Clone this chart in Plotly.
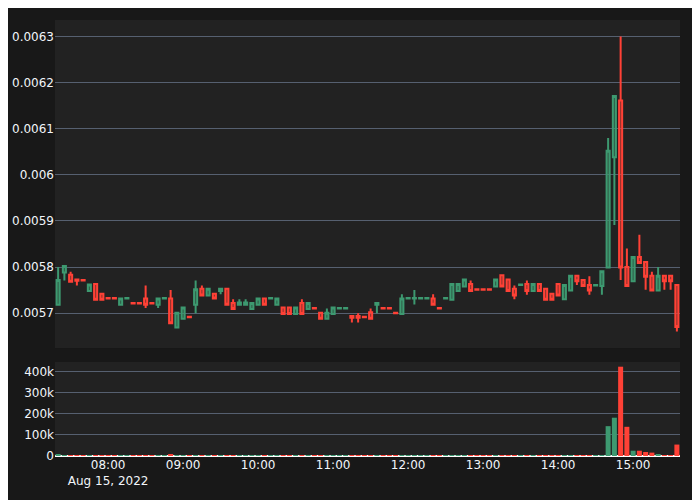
import pandas as pd
import plotly.graph_objects as go
from plotly.subplots import make_subplots

# 5-minute bars, Aug 15 2022, 07:20 .. 15:35
times = pd.date_range("2022-08-15 07:20", "2022-08-15 15:35", freq="5min")

opens = [
    0.005718, 0.005788, 0.005783, 0.005773, 0.005772, 0.005748, 0.005763, 0.005742, 0.005733, 0.005733,
    0.005718, 0.005732, 0.005722, 0.005722, 0.005732, 0.005722, 0.005718, 0.005732, 0.005732, 0.005669,
    0.005688, 0.005692, 0.005718, 0.005753, 0.005738, 0.005742, 0.005748, 0.005753, 0.005722, 0.005718,
    0.005718, 0.005709, 0.005718, 0.005732, 0.005732, 0.005718, 0.005712, 0.005712, 0.005698, 0.005722,
    0.005709, 0.005711, 0.005701, 0.005688, 0.005698, 0.005710, 0.005710, 0.005694, 0.005694, 0.005692,
    0.005702, 0.005718, 0.005711, 0.005711, 0.005701, 0.005698, 0.005732, 0.005732, 0.005732, 0.005732,
    0.005732, 0.005711, 0.005732, 0.005729, 0.005748, 0.005758, 0.005763, 0.005752, 0.005752, 0.005752,
    0.005758, 0.005782, 0.005773, 0.005753, 0.005761, 0.005763, 0.005748, 0.005763, 0.005753, 0.005742,
    0.005763, 0.005730, 0.005749, 0.005781, 0.005772, 0.005761, 0.005760, 0.005759, 0.005799, 0.006038,
    0.006161, 0.005800, 0.005769, 0.005822, 0.005811, 0.005781, 0.005749, 0.005781, 0.005781, 0.005761,
]
highs = [
    0.005800, 0.005802, 0.005790, 0.005773, 0.005772, 0.005762, 0.005763, 0.005742, 0.005733, 0.005733,
    0.005732, 0.005733, 0.005722, 0.005722, 0.005760, 0.005722, 0.005732, 0.005733, 0.005750, 0.005701,
    0.005712, 0.005692, 0.005771, 0.005760, 0.005753, 0.005742, 0.005753, 0.005753, 0.005730, 0.005730,
    0.005730, 0.005722, 0.005732, 0.005732, 0.005733, 0.005732, 0.005712, 0.005712, 0.005712, 0.005730,
    0.005722, 0.005711, 0.005701, 0.005710, 0.005712, 0.005711, 0.005711, 0.005694, 0.005700, 0.005692,
    0.005710, 0.005722, 0.005711, 0.005711, 0.005701, 0.005741, 0.005733, 0.005750, 0.005733, 0.005733,
    0.005741, 0.005711, 0.005733, 0.005763, 0.005763, 0.005773, 0.005771, 0.005752, 0.005752, 0.005752,
    0.005773, 0.005782, 0.005773, 0.005760, 0.005762, 0.005771, 0.005763, 0.005763, 0.005753, 0.005742,
    0.005763, 0.005761, 0.005781, 0.005781, 0.005772, 0.005780, 0.005761, 0.005791, 0.006080, 0.006171,
    0.006300, 0.005840, 0.005822, 0.005870, 0.005811, 0.005790, 0.005800, 0.005781, 0.005781, 0.005761,
]
lows = [
    0.005718, 0.005771, 0.005768, 0.005760, 0.005771, 0.005748, 0.005729, 0.005729, 0.005732, 0.005732,
    0.005718, 0.005732, 0.005721, 0.005721, 0.005711, 0.005721, 0.005711, 0.005732, 0.005678, 0.005669,
    0.005688, 0.005691, 0.005700, 0.005738, 0.005738, 0.005732, 0.005741, 0.005718, 0.005709, 0.005718,
    0.005718, 0.005709, 0.005718, 0.005718, 0.005732, 0.005718, 0.005698, 0.005698, 0.005698, 0.005698,
    0.005709, 0.005710, 0.005688, 0.005688, 0.005698, 0.005710, 0.005710, 0.005680, 0.005680, 0.005691,
    0.005688, 0.005700, 0.005710, 0.005710, 0.005700, 0.005698, 0.005732, 0.005719, 0.005732, 0.005732,
    0.005718, 0.005710, 0.005732, 0.005729, 0.005748, 0.005758, 0.005748, 0.005751, 0.005751, 0.005751,
    0.005758, 0.005758, 0.005748, 0.005730, 0.005761, 0.005740, 0.005748, 0.005748, 0.005729, 0.005729,
    0.005738, 0.005730, 0.005749, 0.005761, 0.005759, 0.005740, 0.005760, 0.005740, 0.005799, 0.005891,
    0.005772, 0.005759, 0.005769, 0.005809, 0.005751, 0.005749, 0.005749, 0.005751, 0.005751, 0.005660,
]
closes = [
    0.005772, 0.005802, 0.005768, 0.005770, 0.005771, 0.005762, 0.005729, 0.005729, 0.005732, 0.005732,
    0.005732, 0.005733, 0.005721, 0.005721, 0.005718, 0.005721, 0.005732, 0.005733, 0.005678, 0.005701,
    0.005712, 0.005691, 0.005752, 0.005738, 0.005753, 0.005732, 0.005753, 0.005718, 0.005709, 0.005723,
    0.005723, 0.005722, 0.005732, 0.005718, 0.005733, 0.005732, 0.005698, 0.005698, 0.005712, 0.005698,
    0.005722, 0.005710, 0.005688, 0.005701, 0.005712, 0.005711, 0.005711, 0.005690, 0.005690, 0.005691,
    0.005688, 0.005722, 0.005710, 0.005710, 0.005700, 0.005732, 0.005733, 0.005733, 0.005733, 0.005733,
    0.005718, 0.005710, 0.005733, 0.005763, 0.005763, 0.005773, 0.005748, 0.005751, 0.005751, 0.005751,
    0.005773, 0.005758, 0.005748, 0.005738, 0.005762, 0.005748, 0.005763, 0.005748, 0.005729, 0.005729,
    0.005738, 0.005761, 0.005781, 0.005769, 0.005759, 0.005749, 0.005761, 0.005791, 0.006052, 0.006171,
    0.005799, 0.005759, 0.005822, 0.005809, 0.005779, 0.005749, 0.005781, 0.005769, 0.005769, 0.005670,
]
volumes = [
    6000, 3000, 1200, 800, 500, 1500, 2500, 1500, 600, 600,
    1200, 500, 700, 700, 2500, 800, 1500, 500, 5500, 2000,
    1500, 600, 3000, 1500, 1200, 1500, 800, 1500, 1200, 600,
    600, 1200, 1500, 1200, 500, 1200, 1500, 1200, 1200, 1500,
    1200, 500, 1500, 1000, 1000, 400, 400, 1200, 1500, 500,
    1500, 1000, 400, 400, 500, 2500, 400, 800, 400, 400,
    1500, 600, 400, 2500, 1500, 2000, 1500, 500, 500, 500,
    1500, 2000, 2500, 2000, 500, 2000, 1500, 1500, 2500, 1500,
    2000, 1500, 3000, 1500, 1200, 2500, 800, 3500, 141000, 181000,
    422000, 138000, 25000, 25000, 19000, 16000, 6000, 4000, 3000, 54000,
]

UP = "#3D9970"
DOWN = "#FF4136"
vol_colors = [UP if c >= o else DOWN for o, c in zip(opens, closes)]

fig = make_subplots(rows=2, cols=1, shared_xaxes=True)

fig.add_trace(go.Candlestick(x=times, open=opens, high=highs, low=lows, close=closes,
                             increasing_line_color=UP, decreasing_line_color=DOWN,
                             showlegend=False), row=1, col=1)
fig.add_trace(go.Bar(x=times, y=volumes, marker_color=vol_colors, marker_line_width=0,
                     showlegend=False), row=2, col=1)

GRID = "#566070"
fig.update_layout(
    width=700, height=500,
    margin=dict(l=47, r=28, t=12, b=52),
    paper_bgcolor="#181818", plot_bgcolor="#222222",
    font=dict(family="DejaVu Sans", color="#f2f5fa", size=12),
    showlegend=False,
    xaxis=dict(domain=[0, 1], rangeslider=dict(visible=False), showgrid=False, zeroline=False,
               automargin=False),
    xaxis2=dict(domain=[0, 1], showgrid=False, zeroline=False, automargin=False),
    yaxis=dict(domain=[0.2477, 1], gridcolor=GRID, zeroline=False, automargin=False),
    yaxis2=dict(domain=[0, 0.2156], gridcolor=GRID, zeroline=True, zerolinecolor="white",
                zerolinewidth=2, automargin=False),
)

fig.write_html("out.html")
